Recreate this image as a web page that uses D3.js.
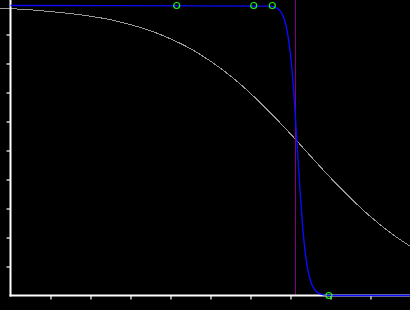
<!DOCTYPE html>
<html>
<head>
<meta charset="utf-8">
<script src="https://cdn.jsdelivr.net/npm/d3@7"></script>
<style>
  html, body { margin: 0; padding: 0; background: #000; }
  svg { display: block; }
</style>
</head>
<body>
<svg></svg>
<script>
// values (x in axis units, y from 0 to 1)
var grayX = [-0.25, 0, 0.5, 1, 1.5, 2, 2.5, 3, 3.5, 4, 4.5, 5, 5.5, 6, 6.5, 7, 7.5, 8, 8.5, 9, 9.5, 10]
var grayY = [0.99, 0.989, 0.985, 0.979, 0.972, 0.963, 0.951, 0.934, 0.913, 0.885, 0.851, 0.808, 0.757, 0.697, 0.63, 0.557, 0.481, 0.406, 0.336, 0.272, 0.216, 0.169]

var blueX = [0, 6.5, 6.7, 6.8, 6.9, 7.0, 7.05, 7.1, 7.15, 7.2, 7.25, 7.3, 7.4, 7.5, 7.6, 7.7, 7.8, 8.0, 10]
var blueY = [1, 0.998, 0.987, 0.968, 0.924, 0.831, 0.757, 0.664, 0.557, 0.443, 0.336, 0.243, 0.115, 0.05, 0.021, 0.008, 0.003, 0, 0]

var markerX = [4.155, 6.08, 6.545, 7.96]
var markerY = [1, 1, 1, 0]

var levelX = 7.13

var xTicks = [1, 2, 3, 4, 5, 6, 7, 8, 9]
var yTicks = [0.1, 0.2, 0.3, 0.4, 0.5, 0.6, 0.7, 0.8, 0.9]

var svgWidth = 410, svgHeight = 310
var svg = d3.select('svg')
    .attr('width', svgWidth)
    .attr('height', svgHeight)

svg.append('rect')
    .attr('width', svgWidth)
    .attr('height', svgHeight)
    .attr('fill', '#000')

var x = d3.scaleLinear().domain([0, 10]).range([10.5, 410.5])
var y = d3.scaleLinear().domain([0, 1]).range([295.5, 5.5])

var line = d3.line()
    .x(function(d) { return x(d[0]) })
    .y(function(d) { return y(d[1]) })
    .curve(d3.curveMonotoneX)

// wide curve
svg.append('path')
    .datum(d3.zip(grayX, grayY))
    .attr('d', line)
    .attr('fill', 'none')
    .attr('stroke', '#999')
    .attr('stroke-width', 1)
    .attr('shape-rendering', 'crispEdges')

// vertical level line
var lx = Math.floor(x(levelX)) + 0.5
svg.append('line')
    .attr('x1', lx).attr('x2', lx)
    .attr('y1', 0).attr('y2', y(0))
    .attr('stroke', '#800080')
    .attr('stroke-width', 1)

// axes
var xAxis = d3.axisBottom(x).tickValues(xTicks).tickFormat('').tickSizeOuter(0).tickSize(4)
var yAxis = d3.axisLeft(y).tickValues(yTicks).tickFormat('').tickSizeOuter(0).tickSize(4)

svg.append('g').attr('transform', 'translate(0,' + y(0) + ')').call(xAxis)
svg.append('g').attr('transform', 'translate(' + x(0) + ',0)').call(yAxis)
svg.selectAll('.domain').remove()
svg.selectAll('.tick line').attr('stroke', '#fff').attr('stroke-width', 1.2)

svg.append('line')
    .attr('x1', x(0)).attr('x2', x(0))
    .attr('y1', 0).attr('y2', y(0) + 1)
    .attr('stroke', '#fff').attr('stroke-width', 2)
svg.append('line')
    .attr('x1', x(0) - 1).attr('x2', svgWidth)
    .attr('y1', y(0)).attr('y2', y(0))
    .attr('stroke', '#fff').attr('stroke-width', 2)

// steep curve
svg.append('path')
    .datum(d3.zip(blueX, blueY))
    .attr('d', line)
    .attr('fill', 'none')
    .attr('stroke', '#0a0aff')
    .attr('stroke-width', 1.4)

// markers
svg.selectAll('circle.marker')
    .data(d3.zip(markerX, markerY))
    .enter()
    .append('circle')
    .attr('class', 'marker')
    .attr('cx', function(d) { return x(d[0]) })
    .attr('cy', function(d) { return y(d[1]) })
    .attr('r', 3)
    .attr('fill', 'none')
    .attr('stroke', '#22ee22')
    .attr('stroke-width', 1.2)
</script>
</body>
</html>
